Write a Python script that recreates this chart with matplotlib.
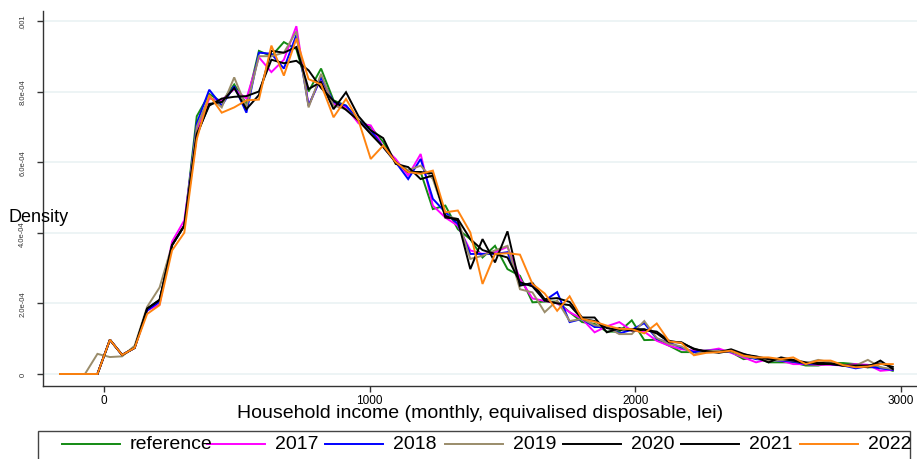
import matplotlib
matplotlib.use('Agg')
import matplotlib.pyplot as plt
from matplotlib.lines import Line2D
from matplotlib.patches import Rectangle

plt.rcParams['font.family'] = ['Liberation Sans', 'DejaVu Sans']

# income grid (lei)
income = [-166, -119, -72, -25, 22, 68, 115, 162, 209, 256, 302, 349, 396, 443,
          490, 536, 583, 630, 677, 724, 770, 817, 864, 911, 958, 1004, 1051,
          1098, 1145, 1192, 1238, 1285, 1332, 1379, 1425, 1472, 1519, 1566,
          1613, 1659, 1706, 1753, 1800, 1847, 1893, 1940, 1987, 2034, 2081,
          2128, 2174, 2221, 2268, 2315, 2361, 2408, 2455, 2502, 2549, 2595,
          2642, 2689, 2736, 2783, 2830, 2876, 2923, 2970]

# densities, in units of 1e-4
reference = [0, 0, 0, 0, 0.97, 0.54, 0.74, 1.8, 2.05, 3.65, 4.2, 7.3, 7.93, 7.7,
             8.2, 7.65, 9.15, 9.0, 9.4, 9.2, 8.0, 8.65, 7.75, 7.6, 7.18, 6.99,
             6.57, 6.0, 5.7, 5.72, 4.67, 4.77, 4.1, 3.82, 3.3, 3.63, 2.97, 2.78,
             2.03, 2.05, 2.05, 1.75, 1.47, 1.42, 1.2, 1.2, 1.52, 0.96, 0.97, 0.8,
             0.62, 0.62, 0.66, 0.68, 0.62, 0.42, 0.47, 0.33, 0.33, 0.33, 0.24,
             0.24, 0.31, 0.31, 0.28, 0.19, 0.19, 0.09]
y2017 = [0, 0, 0, 0, 0.97, 0.54, 0.74, 1.8, 1.97, 3.75, 4.35, 6.9, 7.8, 7.75,
         8.07, 7.8, 8.97, 8.55, 8.9, 9.85, 7.6, 8.4, 7.65, 7.55, 7.1, 7.04, 6.43,
         6.09, 5.62, 6.23, 4.77, 4.43, 4.2, 3.5, 3.4, 3.45, 3.6, 2.7, 2.14, 2.07,
         2.0, 1.75, 1.56, 1.18, 1.35, 1.47, 1.23, 1.2, 0.94, 0.8, 0.7, 0.66,
         0.66, 0.72, 0.6, 0.47, 0.33, 0.42, 0.38, 0.28, 0.28, 0.26, 0.26, 0.24,
         0.28, 0.26, 0.09, 0.12]
y2018 = [0, 0, 0, 0, 0.97, 0.54, 0.74, 1.8, 2.05, 3.65, 4.2, 7.1, 8.05, 7.6,
         8.15, 7.4, 9.1, 9.07, 8.65, 9.6, 7.6, 8.4, 7.7, 7.6, 7.18, 6.9, 6.43,
         6.0, 5.52, 6.09, 4.96, 4.58, 4.25, 3.4, 3.4, 3.4, 3.45, 2.55, 2.52,
         2.08, 2.32, 1.47, 1.56, 1.33, 1.33, 1.15, 1.25, 1.44, 1.0, 0.88, 0.75,
         0.62, 0.66, 0.66, 0.62, 0.52, 0.42, 0.4, 0.38, 0.35, 0.28, 0.3, 0.28,
         0.24, 0.16, 0.22, 0.16, 0.12]
y2019 = [0, 0, 0, 0.57, 0.48, 0.5, 0.8, 1.9, 2.45, 3.65, 4.2, 7.0, 7.87, 7.55,
         8.4, 7.55, 9.0, 9.0, 9.1, 9.7, 7.55, 8.5, 7.6, 7.5, 7.18, 6.8, 6.43,
         6.0, 5.77, 5.9, 5.52, 4.48, 4.39, 3.26, 3.35, 3.5, 3.63, 2.4, 2.31,
         1.75, 2.08, 1.5, 1.56, 1.38, 1.33, 1.13, 1.13, 1.5, 1.02, 0.85, 0.78,
         0.55, 0.66, 0.65, 0.63, 0.5, 0.45, 0.38, 0.4, 0.38, 0.3, 0.4, 0.33,
         0.24, 0.24, 0.4, 0.19, 0.14]
y2020 = [0, 0, 0, 0, 0.97, 0.54, 0.74, 1.85, 2.1, 3.65, 4.2, 6.8, 7.6, 7.8,
         7.85, 7.87, 8.0, 8.9, 8.8, 8.87, 8.6, 8.1, 7.74, 7.48, 7.18, 6.8, 6.43,
         6.0, 5.72, 5.72, 5.68, 4.43, 4.39, 3.82, 3.51, 3.4, 3.3, 2.6, 2.48,
         2.08, 2.0, 1.95, 1.56, 1.5, 1.3, 1.25, 1.27, 1.27, 1.15, 0.9, 0.9, 0.7,
         0.65, 0.6, 0.66, 0.55, 0.5, 0.42, 0.43, 0.38, 0.3, 0.32, 0.3, 0.24,
         0.24, 0.24, 0.3, 0.2]
y2021 = [0, 0, 0, 0, 0.97, 0.54, 0.74, 1.85, 2.1, 3.65, 4.2, 6.75, 7.65, 7.7,
         8.1, 7.5, 7.9, 9.15, 9.1, 9.26, 8.07, 8.27, 7.5, 7.98, 7.3, 6.9, 6.68,
         5.95, 5.86, 5.52, 5.62, 4.48, 4.34, 2.97, 3.82, 3.16, 4.04, 2.5, 2.58,
         2.12, 2.15, 2.04, 1.6, 1.6, 1.18, 1.3, 1.23, 1.25, 1.2, 0.94, 0.88,
         0.72, 0.62, 0.62, 0.7, 0.57, 0.47, 0.33, 0.47, 0.4, 0.33, 0.28, 0.28,
         0.24, 0.22, 0.19, 0.38, 0.14]
y2022 = [0, 0, 0, 0, 0.97, 0.54, 0.74, 1.7, 1.95, 3.5, 4.0, 6.65, 7.9, 7.4,
         7.55, 7.75, 7.77, 9.3, 8.45, 9.5, 8.35, 8.2, 7.27, 7.79, 7.18, 6.09,
         6.47, 6.0, 5.72, 5.67, 5.76, 4.58, 4.63, 4.01, 2.55, 3.4, 3.42, 3.38,
         2.55, 2.28, 1.79, 2.2, 1.56, 1.48, 1.37, 1.28, 1.27, 1.15, 1.43, 0.92,
         0.88, 0.53, 0.6, 0.62, 0.66, 0.52, 0.47, 0.47, 0.42, 0.47, 0.28, 0.38,
         0.38, 0.25, 0.19, 0.21, 0.28, 0.28]

labels = ['reference', '2017', '2018', '2019', '2020', '2021', '2022']
series = [reference, y2017, y2018, y2019, y2020, y2021, y2022]
colors = ['#138a13', '#ff00ff', '#0000ff', '#9a8c6a', '#000000', '#000000', '#ff8410']

W, H = 917, 460
fig = plt.figure(figsize=(W / 100, H / 100), dpi=100)
ax = fig.add_axes([43 / W, (H - 387) / H, (W - 43) / W, (387 - 12) / H])

for vals, c in zip(series, colors):
    ax.plot(income, [v * 1e-4 for v in vals], color=c, lw=1.4, solid_joinstyle='miter')

ax.set_xlim(-230, 3061)
ax.set_ylim(-3.4e-5, 1.028e-3)

ax.set_xticks([0, 1000, 2000, 3000])
ax.set_xticklabels(['0', '1000', '2000', '3000'], fontsize=8.5)
ax.set_yticks([0, 2e-4, 4e-4, 6e-4, 8e-4, 1e-3])
ax.set_yticklabels(['0', '2.0e-04', '4.0e-04', '6.0e-04', '8.0e-04', '.001'],
                   rotation=90, fontsize=5.5, va='center', color='#333333')
ax.tick_params(axis='x', length=4, width=1, color='#333333', pad=1.5)
ax.tick_params(axis='y', length=4, width=1, color='#333333', pad=8)

ax.yaxis.grid(True, color='#eaf2f3', lw=1.2)
ax.set_axisbelow(True)
for s in ['top', 'right']:
    ax.spines[s].set_visible(False)
for s in ['left', 'bottom']:
    ax.spines[s].set_color('#333333')
    ax.spines[s].set_linewidth(1)

fig.text(480 / W, 1 - 414 / H, 'Household income (monthly, equivalised disposable, lei)',
         ha='center', va='center', fontsize=14)
fig.text(8 / W, 1 - 217 / H, 'Density', ha='left', va='center', fontsize=13)

# legend box, cut off at the bottom like the original
fig.patches.append(Rectangle((38 / W, -0.1), (910 - 38) / W, 0.1 + (H - 432) / H,
                             transform=fig.transFigure, fill=False,
                             edgecolor='#444444', lw=1))
key_x = [62, 207, 325, 445, 563, 681, 800]
ly = 1 - 445 / H
for kx, lab, c in zip(key_x, labels, colors):
    fig.lines.append(Line2D([kx / W, (kx + 58) / W], [ly, ly], color=c, lw=1.4,
                            transform=fig.transFigure))
    fig.text((kx + 68) / W, ly, lab, ha='left', va='center', fontsize=14)

fig.savefig('out.png', dpi=100)
